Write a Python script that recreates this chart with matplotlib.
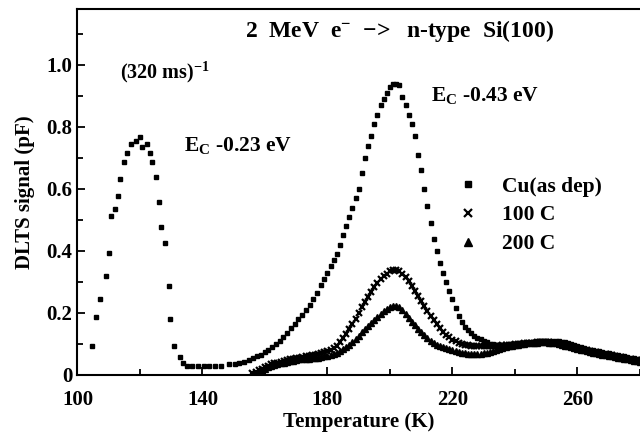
#DLTS spectra of electron irradiated n-type Si

import matplotlib.pyplot as plt
from matplotlib.ticker import FixedLocator

plt.rcParams['font.family'] = ['Liberation Serif', 'DejaVu Serif']
plt.rcParams['font.weight'] = 'bold'
plt.rcParams['mathtext.fontset'] = 'custom'
plt.rcParams['mathtext.rm'] = 'Liberation Serif:bold'
plt.rcParams['mathtext.bf'] = 'Liberation Serif:bold'
plt.rcParams['mathtext.it'] = 'Liberation Serif:bold'

#Cu (as deposited), squares
cu_t = [104.8, 106.0, 107.1, 109.0, 110.1, 110.8, 111.9, 113.1, 113.6, 115.0,
        116.0, 117.1, 118.7, 119.9, 120.8, 122.1, 123.1, 124.0, 125.0, 126.1,
        126.8, 127.9, 129.2, 129.7, 131.0, 132.7, 133.7, 135.1, 136.8, 138.6,
        140.4, 142.2, 144.0, 145.8, 148.4, 150.3, 151.8, 153.3, 154.8, 156.3,
        157.5, 158.7, 159.9, 161.1, 162.3, 163.5, 164.7, 165.9, 167.1, 168.3,
        169.5, 170.7, 171.9, 173.1, 174.3, 175.5, 176.7, 177.8, 178.9, 180,
        181, 182, 183, 184, 185, 186, 187, 188, 189, 190,
        191, 192, 193, 194, 195, 196, 197, 198, 199, 200,
        201, 202, 203, 204, 205, 206, 207, 208, 209, 210,
        211, 212, 213, 214, 215, 216, 217, 218, 219, 220,
        221, 222, 223, 224, 225, 226, 227, 228, 229, 230,
        231, 232, 233, 234, 235, 236, 237, 238, 239, 240,
        241, 242, 243, 244, 245, 246, 247, 248, 249, 250,
        251, 252, 253, 254, 255, 256, 257, 258, 259, 260,
        261, 262, 263, 264, 265, 266, 267, 268, 269, 270,
        271, 272, 273, 274, 275, 276, 277, 278, 279, 280]
cu_y = [0.094, 0.187, 0.246, 0.32, 0.395, 0.512, 0.536, 0.577, 0.633, 0.687,
        0.717, 0.744, 0.754, 0.768, 0.736, 0.744, 0.717, 0.686, 0.638, 0.557,
        0.476, 0.425, 0.287, 0.182, 0.095, 0.057, 0.04, 0.03, 0.03, 0.03,
        0.03, 0.03, 0.03, 0.03, 0.036, 0.036, 0.04, 0.042, 0.047, 0.055,
        0.06, 0.066, 0.073, 0.08, 0.09, 0.1, 0.11, 0.122, 0.135, 0.15,
        0.165, 0.18, 0.195, 0.21, 0.225, 0.245, 0.265, 0.29, 0.31, 0.33,
        0.35, 0.37, 0.39, 0.42, 0.45, 0.48, 0.51, 0.54, 0.57, 0.6,
        0.65, 0.7, 0.74, 0.77, 0.81, 0.84, 0.87, 0.89, 0.91, 0.93,
        0.938, 0.938, 0.935, 0.895, 0.87, 0.84, 0.81, 0.77, 0.71, 0.66,
        0.6, 0.545, 0.49, 0.44, 0.4, 0.36, 0.33, 0.3, 0.27, 0.245,
        0.215, 0.19, 0.17, 0.155, 0.145, 0.135, 0.125, 0.12, 0.115, 0.11,
        0.105, 0.1, 0.1, 0.097, 0.097, 0.097, 0.097, 0.098, 0.1, 0.1,
        0.1, 0.102, 0.104, 0.105, 0.106, 0.107, 0.108, 0.108, 0.108, 0.108,
        0.108, 0.108, 0.108, 0.108, 0.106, 0.105, 0.103, 0.1, 0.097, 0.093,
        0.09, 0.087, 0.084, 0.082, 0.08, 0.078, 0.076, 0.074, 0.072, 0.07,
        0.068, 0.066, 0.064, 0.062, 0.06, 0.058, 0.056, 0.054, 0.052, 0.05]

#annealed samples share one temperature grid
ann_t = list(range(156, 281))
#100 C, crosses
c100_y = [0.005, 0.01, 0.015, 0.02, 0.025, 0.03, 0.035, 0.038, 0.04, 0.042,
          0.045, 0.047, 0.05, 0.052, 0.054, 0.056, 0.058, 0.06, 0.062, 0.064,
          0.066, 0.068, 0.07, 0.073, 0.077, 0.082, 0.088, 0.095, 0.105, 0.118,
          0.132, 0.148, 0.165, 0.182, 0.2, 0.218, 0.235, 0.252, 0.268, 0.283,
          0.296, 0.308, 0.318, 0.327, 0.334, 0.338, 0.338, 0.334, 0.326, 0.315,
          0.302, 0.288, 0.272, 0.256, 0.24, 0.223, 0.206, 0.19, 0.176, 0.163,
          0.151, 0.14, 0.13, 0.121, 0.114, 0.108, 0.104, 0.1, 0.098, 0.096,
          0.095, 0.094, 0.093, 0.093, 0.093, 0.093, 0.094, 0.094, 0.095, 0.095,
          0.096, 0.096, 0.097, 0.098, 0.099, 0.1, 0.101, 0.102, 0.103, 0.104,
          0.104, 0.105, 0.105, 0.105, 0.105, 0.105, 0.104, 0.103, 0.101, 0.099,
          0.097, 0.094, 0.091, 0.088, 0.086, 0.083, 0.081, 0.079, 0.077, 0.075,
          0.073, 0.071, 0.069, 0.067, 0.065, 0.063, 0.061, 0.059, 0.057, 0.055,
          0.053, 0.051, 0.049, 0.047, 0.045]
#200 C, triangles
c200_y = [0.0, 0.005, 0.01, 0.015, 0.02, 0.025, 0.03, 0.033, 0.036, 0.038,
          0.04, 0.042, 0.044, 0.046, 0.048, 0.05, 0.051, 0.052, 0.053, 0.054,
          0.055, 0.056, 0.058, 0.06, 0.062, 0.065, 0.068, 0.072, 0.077, 0.083,
          0.09, 0.098, 0.107, 0.117, 0.127, 0.137, 0.148, 0.158, 0.168, 0.178,
          0.188, 0.197, 0.205, 0.212, 0.218, 0.222, 0.222, 0.218, 0.21, 0.198,
          0.185, 0.172, 0.16, 0.149, 0.138, 0.128, 0.119, 0.111, 0.104, 0.098,
          0.093, 0.089, 0.086, 0.083, 0.08, 0.077, 0.074, 0.072, 0.07, 0.069,
          0.068, 0.068, 0.068, 0.069, 0.07, 0.072, 0.074, 0.077, 0.08, 0.083,
          0.086, 0.089, 0.092, 0.094, 0.096, 0.098, 0.1, 0.101, 0.102, 0.103,
          0.104, 0.104, 0.105, 0.105, 0.105, 0.104, 0.103, 0.102, 0.1, 0.098,
          0.095, 0.092, 0.089, 0.086, 0.084, 0.081, 0.079, 0.077, 0.075, 0.072,
          0.07, 0.068, 0.066, 0.064, 0.062, 0.06, 0.058, 0.056, 0.054, 0.052,
          0.05, 0.048, 0.046, 0.044, 0.042]

x_major = [100, 140, 180, 220, 260]
x_minor = [120, 160, 200, 240, 280]
y_major = [0, 0.2, 0.4, 0.6, 0.8, 1.0]
y_labels = ['0', '0.2', '0.4', '0.6', '0.8', '1.0']
y_minor = [0.1, 0.3, 0.5, 0.7, 0.9, 1.1]

fig = plt.figure(figsize=(6.4, 4.34), dpi=100)
ax = fig.add_axes([0.121, 0.136, 0.879, 0.843])

ax.plot(ann_t, c200_y, ls='none', marker='^', ms=4.8, color='black', label='200 C', zorder=2)
ax.plot(ann_t, c100_y, ls='none', marker='x', ms=5, mew=1.6, color='black', label='100 C', zorder=3)
ax.plot(cu_t, cu_y, ls='none', marker='s', ms=3.5, color='black', label='Cu(as dep)', zorder=4)

ax.set_xlim(100, 280)
ax.set_ylim(0, 1.18)
ax.xaxis.set_major_locator(FixedLocator(x_major))
ax.xaxis.set_minor_locator(FixedLocator(x_minor))
ax.set_yticks(y_major)
ax.set_yticklabels(y_labels)
ax.yaxis.set_minor_locator(FixedLocator(y_minor))
ax.tick_params(which='both', direction='in', labelsize=15, width=1.3)
ax.tick_params(which='major', length=6)
ax.tick_params(which='minor', length=4)
ax.tick_params(axis='x', pad=11)
ax.spines['right'].set_visible(False)
for s in ['left', 'bottom', 'top']:
    ax.spines[s].set_linewidth(1.5)

ax.set_xlabel('Temperature (K)', fontsize=15, fontweight='bold', labelpad=1)
ax.set_ylabel('DLTS signal (pF)', fontsize=15, fontweight='bold', labelpad=8)

#labels on the plot
ax.text(203, 1.11, r'2  MeV  e$^{-}$  $-\!>$  n-type  Si(100)', fontsize=17,
        fontweight='bold', ha='center', va='center')
ax.text(113.5, 0.975, r'(320 ms)$^{-1}$', fontsize=14.5, fontweight='bold',
        ha='left', va='center')
ax.text(134, 0.74, r'E$_{\mathrm{C}}$ -0.23 eV', fontsize=15.5, fontweight='bold',
        ha='left', va='center')
ax.text(213, 0.9, r'E$_{\mathrm{C}}$ -0.43 eV', fontsize=15.5, fontweight='bold',
        ha='left', va='center')

handles, labels = ax.get_legend_handles_labels()
ax.legend(handles[::-1], labels[::-1], loc='upper left', bbox_to_anchor=(0.64, 0.595),
          frameon=False, fontsize=15.5, handletextpad=1.1, labelspacing=0.4,
          markerscale=1.1, handlelength=1.0)

plt.savefig('out.png', dpi=100)
